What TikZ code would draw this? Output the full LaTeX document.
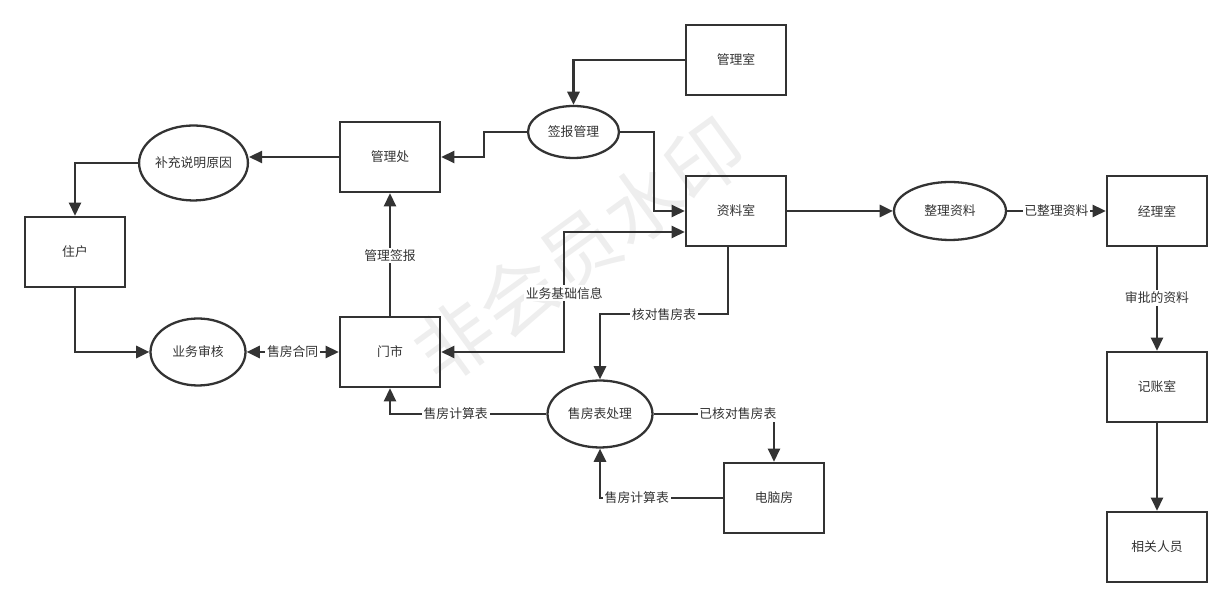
\documentclass[tikz,border=0pt]{standalone}
\usepackage{fontspec}
\usepackage{tikz}
\usetikzlibrary{arrows.meta,positioning,calc,shapes.geometric}
\newfontfamily\cjk{Noto Sans CJK SC}
\definecolor{darkline}{RGB}{51,51,51}
\definecolor{wmark}{RGB}{238,238,238}

\begin{document}
\begin{tikzpicture}[x=0.02cm, y=-0.02cm,
    font=\cjk\fontsize{7.3}{9}\selectfont, text=darkline,
    room/.style={draw=darkline, line width=1.5pt, minimum width=2cm, minimum height=1.4cm, inner sep=0pt},
    proc/.style={ellipse, draw=darkline, line width=1.3pt, inner sep=0pt},
    flow/.style={darkline, line width=1.2pt, -{Triangle[length=7.5pt,width=7pt]}},
    both/.style={darkline, line width=1.2pt, {Triangle[length=7.5pt,width=7pt]}-{Triangle[length=7.5pt,width=7pt]}},
    lbl/.style={fill=white, inner sep=1pt}]
    \useasboundingbox (0,0) rectangle (1232,607);

    % watermark
    \node[rotate=36, text=wmark, font=\cjk\fontsize{44}{44}\selectfont] (wm) at (580,250) {非会员水印};

    % rooms
    \node[room] (gls) at (736,60) {管理室};
    \node[room] (glc) at (390,157) {管理处};
    \node[room] (zh) at (75,252) {住户};
    \node[room] (ms) at (390,352) {门市};
    \node[room] (zls) at (736,211) {资料室};
    \node[room] (dnf) at (774,498) {电脑房};
    \node[room] (jls) at (1157,211) {经理室};
    \node[room] (jzs) at (1157,387) {记账室};
    \node[room] (xgry) at (1157,547) {相关人员};

    % processes
    \node[proc, minimum width=2.06cm, minimum height=1.5cm] (bcsm) at (193.5,163) {补充说明原因};
    \node[proc, minimum width=1.9cm, minimum height=1.34cm] (ywsh) at (198,352) {业务审核};
    \node[proc, minimum width=1.82cm, minimum height=1.04cm] (qbgl) at (573.5,132) {签报管理};
    \node[proc, minimum width=2.24cm, minimum height=1.16cm] (zlzl) at (950,211) {整理资料};
    \node[proc, minimum width=2.1cm, minimum height=1.34cm] (sbcl) at (600,414) {售房表处理};

    % top part
    \draw[flow] (gls.west) -| (qbgl.north);
    \draw[flow] (qbgl.west) -- ++(-43,0) |- (glc.east);
    \draw[flow] (qbgl.east) -- ++(34,0) |- (zls.west);
    \draw[flow] (glc.west) -- (bcsm.east |- glc.west);
    \draw[flow] (bcsm.west) -| (zh.north);
    \draw[flow] (zh.south) |- (ywsh.west);
    \draw[both] (ywsh.east) -- node[lbl] {售房合同} (ms.west);
    \draw[flow] (ms.north) -- node[lbl, pos=0.49] {管理签报} (glc.south);
    \draw[both] (ms.east) -- ++(123,0) |- node[lbl, pos=0.245] {业务基础信息} ($(zls.west)+(0,21)$);

    % sales table
    \draw[flow] ($(zls.south)+(-8,0)$) -- ++(0,67) -| node[lbl, pos=0.25] {核对售房表} (sbcl.north);
    \draw[flow] (sbcl.west) -| node[lbl, pos=0.29] {售房计算表} (ms.south);
    \draw[flow] (sbcl.east) -| node[lbl, pos=0.35] {已核对售房表} (dnf.north);
    \draw[flow] (dnf.west) -| node[lbl, pos=0.35] {售房计算表} (sbcl.south);

    % right part
    \draw[flow] (zls.east) -- (zlzl.west);
    \draw[flow] (zlzl.east) -- node[lbl] {已整理资料} (jls.west);
    \draw[flow] (jls.south) -- node[lbl, pos=0.49] {审批的资料} (jzs.north);
    \draw[flow] (jzs.south) -- (xgry.north);
\end{tikzpicture}
\end{document}
